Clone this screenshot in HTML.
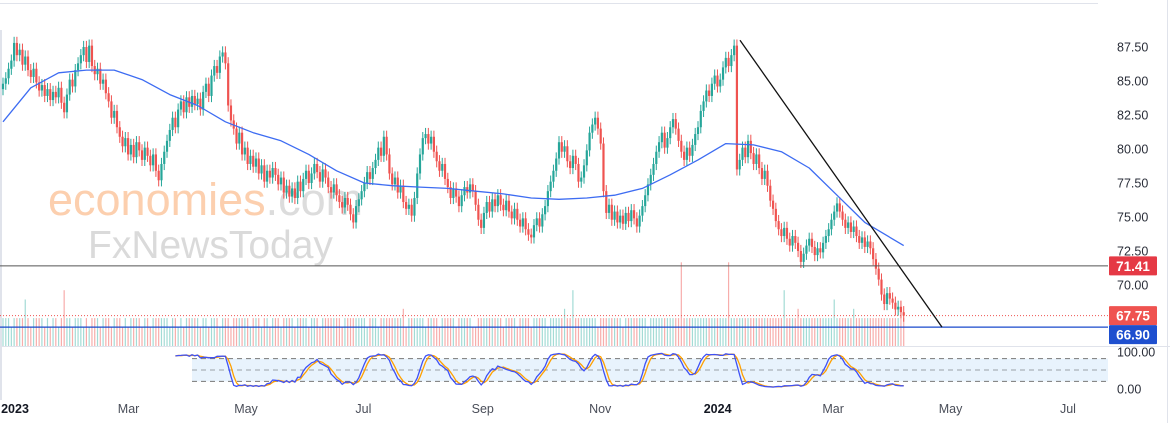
<!DOCTYPE html>
<html><head><meta charset="utf-8"><style>
html,body{margin:0;padding:0;background:#fff;width:1170px;height:423px;overflow:hidden;font-family:"Liberation Sans",sans-serif}
svg{display:block}
text{font-family:"Liberation Sans",sans-serif}
</style></head><body>
<svg id="chart" width="1170" height="423" viewBox="0 0 1170 423" xmlns="http://www.w3.org/2000/svg">
<rect x="0" y="0" width="1170" height="423" fill="#fff"/>
<line x1="0" y1="3.5" x2="1098" y2="3.5" stroke="#e0e3eb"/>
<line x1="1167.5" y1="0" x2="1167.5" y2="423" stroke="#e0e3eb"/>
<line x1="1" y1="30" x2="1" y2="400" stroke="#e0e3eb" stroke-width="2"/>
<line x1="0" y1="346.5" x2="1170" y2="346.5" stroke="#e0e3eb"/>
<g>
<text x="48" y="215" font-size="45" fill="#fccfae">economies<tspan fill="#dcdcdc">.com</tspan></text>
<text x="88" y="258" font-size="39" fill="#dadada">FxNewsToday</text>
</g>
<g id="vol"></g>
<g id="stoch"></g>
<g id="candles"></g>
<g id="ma"></g>
<g id="levels"></g>
<g id="axes"></g>
</svg>
<script>
const closes = [84.8,85.2,85.9,86.5,87.8,86.9,87.3,86.2,86.8,85.8,
85.3,85.9,84.9,84.3,84.7,83.9,84.4,83.6,84.2,83.8,
84.5,83.4,82.7,84.0,85.1,84.6,85.8,86.3,86.9,87.5,
86.4,87.6,86.1,85.5,85.9,84.8,85.1,84.1,83.5,82.3,
82.8,81.6,80.9,80.2,80.8,79.6,80.3,79.4,80.5,79.9,
79.2,80.1,79.5,78.8,79.6,78.4,77.7,78.9,79.8,80.6,
81.4,82.3,81.6,82.9,83.5,82.7,83.8,83.1,83.9,83.3,
83.7,82.9,84.2,84.8,83.9,85.4,86.1,85.6,86.8,87.1,
86.3,83.2,82.1,81.5,80.4,81.2,79.6,80.1,78.9,79.5,
78.7,79.3,78.2,78.8,77.6,78.4,77.9,78.6,78.1,77.4,
77.9,76.8,77.3,76.5,77.1,76.4,77.6,76.9,77.8,78.4,
77.5,78.2,78.9,78.3,77.6,78.5,77.9,77.2,76.8,77.4,
76.6,76.1,75.7,76.4,75.9,75.2,74.6,75.8,76.3,76.9,
77.5,78.3,77.8,78.6,79.2,80.1,79.5,80.9,79.6,78.2,
77.4,77.9,76.8,77.3,76.1,75.6,75.9,75.1,76.4,78.2,
79.6,80.8,81.1,80.4,80.9,79.8,79.1,78.4,78.9,77.8,
77.2,76.4,77.1,76.5,75.8,76.6,77.2,76.8,77.4,76.9,
75.9,74.8,74.2,75.3,76.1,75.4,76.3,75.8,76.6,75.9,
75.5,76.2,75.4,74.9,75.6,74.8,74.3,74.9,74.1,73.7,
73.5,74.4,74.9,74.3,75.2,75.8,76.9,77.6,78.4,79.3,
80.5,79.8,80.2,79.1,78.6,79.5,78.9,77.6,77.9,78.8,
79.9,81.2,81.8,82.3,81.5,80.4,76.9,75.3,75.9,74.8,
75.4,74.6,75.1,74.5,75.3,74.7,75.5,74.9,74.3,75.1,
75.8,76.6,77.4,78.1,78.9,79.8,80.5,81.2,80.1,80.8,
81.6,82.2,81.5,80.6,79.8,79.2,80.1,79.5,80.3,81.1,
81.6,82.8,83.5,84.3,83.9,84.8,85.4,84.6,85.1,86.0,
86.7,86.1,86.9,87.6,78.5,79.2,80.1,79.4,80.6,79.7,
78.9,79.6,78.6,77.8,78.4,77.3,76.2,75.6,74.7,74.1,
73.6,74.2,73.4,72.9,73.6,73.1,72.5,71.7,72.3,72.9,
73.4,72.8,72.2,72.7,72.4,73.1,73.6,74.1,74.8,75.4,
76.0,75.4,74.8,74.2,74.6,73.9,74.3,73.6,73.1,73.5,
72.8,73.2,72.7,71.9,71.2,70.4,69.3,68.6,69.4,69.0,
68.7,68.2,68.4,68.0,67.75];
const volumes = ("3332333353233332323323633233323233323332333232333323323333332332323333323323"+
"3323332333333233323323332333323333233323333333233333333233323333333342333333233332"+
"3333323333322333333333233332333323333323333343363333333323333333323333333323333333"+
"3333933333333333333339333333333333333333363333433333333333353333334333333333").split('').map(Number);
const maIndex = [0,10,20,30,40,50,60,70,80,90,100,110,120,130,140,150,160,170,180,190,200,210,220,230,240,250,260,270,280,290,300,310,324];
const maValues = [82.0,84.5,85.6,85.8,85.8,85.1,84.0,83.2,82.0,81.2,80.6,79.6,78.4,77.5,77.3,77.2,77.1,76.9,76.7,76.4,76.3,76.4,76.6,77.1,78.1,79.2,80.4,80.3,79.8,78.6,76.6,74.6,72.9];
const priceTicks = [87.5,85,82.5,80,77.5,75,72.5,70];
const dateLabels = ["2023","Mar","May","Jul","Sep","Nov","2024","Mar","May","Jul"];
const dateDays = [0,59,120,181,243,304,365,425,486,547];
const levelResist = 71.41, levelSupport = 66.90, lastPrice = 67.75;
const trendStart = [740, 88.0], trendEnd = [942, 66.9];

const NS="http://www.w3.org/2000/svg";
const xOf = i => 3 + i*2.78;
const yOf = p => 47 + (87.5-p)*13.6;
const xDate = d => 15 + d*1.925;
const stY = v => 389 - v*0.38;
function mk(tag, attrs, parent){const e=document.createElementNS(NS,tag);for(const k in attrs)e.setAttribute(k,attrs[k]);parent.appendChild(e);return e;}
const UP="#26a69a", DN="#ef5350";

const gv=document.getElementById('vol');
for(let i=0;i<closes.length;i++){
  const up = i===0 || closes[i]>=closes[i-1];
  const h=(volumes[i]||3)*9.3;
  const r=mk('rect',{x:xOf(i)-0.6,y:346-h,width:1.2,height:h,fill:up?"#a3dbd5":"#f7adab"},gv);
  
  
}
const gc=document.getElementById('candles');
for(let i=0;i<closes.length;i++){
  const o = i===0?closes[0]-0.4:closes[i-1], c=closes[i];
  const up=c>=o, col=up?UP:DN;
  const hi=Math.max(o,c)+0.45, lo=Math.min(o,c)-0.45;
  const x=xOf(i);
  const g=mk('g',{},gc);
  
  
  mk('line',{x1:x,x2:x,y1:yOf(hi),y2:yOf(lo),stroke:col,'stroke-width':1},g);
  const yt=yOf(Math.max(o,c)), yb=yOf(Math.min(o,c));
  mk('rect',{x:x-1.1,y:yt,width:2.2,height:Math.max(1,yb-yt),fill:col},g);
}
const gm=document.getElementById('ma');
const ma=mk('path',{d:maIndex.map((i,k)=>(k?'L':'M')+xOf(i).toFixed(1)+','+yOf(maValues[k]).toFixed(1)).join(''),fill:'none',stroke:'#3d6cf2','stroke-width':1.3,'stroke-linejoin':'round'},gm);


const gl=document.getElementById('levels');
let e=mk('line',{x1:0,x2:1108,y1:yOf(levelResist),y2:yOf(levelResist),stroke:'#555','stroke-width':1},gl);


e=mk('line',{x1:0,x2:1108,y1:yOf(levelSupport),y2:yOf(levelSupport),stroke:'#1848cc','stroke-width':1.3},gl);


e=mk('line',{x1:0,x2:1108,y1:yOf(lastPrice),y2:yOf(lastPrice),stroke:'#ef5350','stroke-width':1,'stroke-dasharray':'1,2'},gl);


e=mk('line',{x1:trendStart[0],y1:yOf(trendStart[1]),x2:trendEnd[0],y2:yOf(trendEnd[1]),stroke:'#111','stroke-width':1.3},gl);


const gs=document.getElementById('stoch');
e=mk('rect',{x:192,y:stY(80),width:916,height:stY(20)-stY(80),fill:'#e8f3fd'},gs);


[80,50,20].forEach(v=>{const l=mk('line',{x1:192,x2:1108,y1:stY(v),y2:stY(v),stroke:v===50?'#9aa0a8':'#777','stroke-width':1,'stroke-dasharray':'5,4'},gs);

});
const K=[];
for(let i=0;i<closes.length;i++){
  const s=Math.max(0,i-13);let hh=-1e9,ll=1e9;
  for(let j=s;j<=i;j++){hh=Math.max(hh,closes[j]+0.45);ll=Math.min(ll,closes[j]-0.45);}
  K.push(100*(closes[i]-ll)/(hh-ll||1));
}
const sm=(a,n)=>a.map((_,i)=>{let s=0,c=0;for(let j=Math.max(0,i-n+1);j<=i;j++){s+=a[j];c++;}return s/c;});
const Ks=sm(K,3), Ds=sm(Ks,3);
const startI=62;
function line(arr,col,name){let d='';for(let i=startI;i<arr.length;i++)d+=(i===startI?'M':'L')+xOf(i).toFixed(1)+','+stY(arr[i]).toFixed(1);
const p=mk('path',{d:d,fill:'none',stroke:col,'stroke-width':1.3},gs);

}
line(Ds,'#ffa000','stoch-d-line');
line(Ks,'#3f51f5','stoch-k-line');
const ga=document.getElementById('axes');
priceTicks.forEach(p=>{const t=mk('text',{x:1117,y:yOf(p)+4.5,'font-size':12.5,fill:'#2a2e39'},ga);t.textContent=p.toFixed(2);

});
[[100,352],[0,389]].forEach(([v,y])=>{const t=mk('text',{x:1117,y:y+4.5,'font-size':12.5,fill:'#2a2e39'},ga);t.textContent=v.toFixed(2);

});
dateLabels.forEach((lab,k)=>{const bold=lab.length===4;const t=mk('text',{x:xDate(dateDays[k]),y:413,'font-size':12.5,fill:bold?'#131722':'#4a4e59','text-anchor':'middle','font-weight':bold?'bold':'normal'},ga);t.textContent=lab;

});
function tag(v,yc,bg,name){
const g=mk('g',{},ga);


mk('rect',{x:1109,y:yc-9.5,width:48,height:19,fill:bg,rx:1},g);
const t=mk('text',{x:1133,y:yc+5,'font-size':13.5,'font-weight':'bold',fill:'#fff','text-anchor':'middle'},g);t.textContent=v.toFixed(2);}
tag(levelResist,yOf(levelResist),'#e53945','resistance-label');
tag(lastPrice,yOf(lastPrice),'#ef5350','last-price-label');
tag(levelSupport,yOf(lastPrice)+19,'#1e4fcf','support-label');
</script>
</body></html>
